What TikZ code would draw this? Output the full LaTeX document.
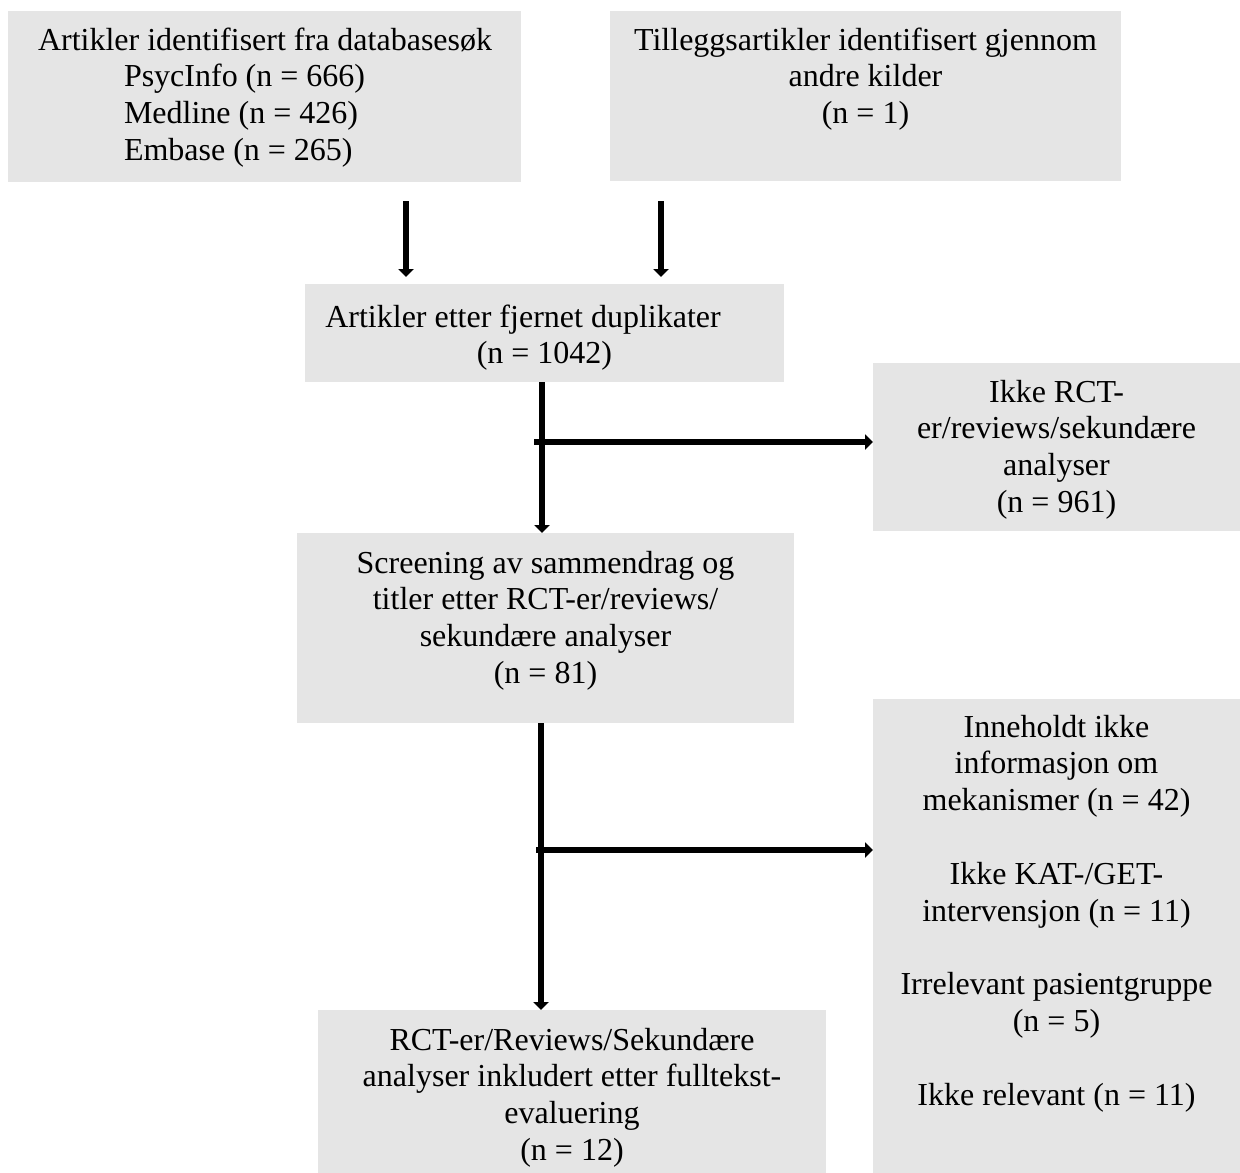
\documentclass[tikz,border=0pt]{standalone}
\usepackage{fontspec}
\setmainfont{Liberation Serif}
\usetikzlibrary{arrows.meta}
\definecolor{boxgray}{RGB}{229,229,229}
\begin{document}
\begin{tikzpicture}[x=1pt,y=-1pt,
  box/.style={fill=boxgray, draw=none, inner sep=0pt, outer sep=0pt, anchor=north west},
  txt/.style={inner sep=0pt, outer sep=0pt, anchor=base, font=\fontsize{32}{36.8}\selectfont},
  arr/.style={line width=6pt, -{Triangle[width=15pt,length=8pt]}}]
\useasboundingbox (0,0) rectangle (1240,1173);
% boxes
\node[box, minimum width=513pt, minimum height=171pt] (b1) at (8,11) {};
\node[box, minimum width=511pt, minimum height=170pt] (b2) at (610,11) {};
\node[box, minimum width=479pt, minimum height=98pt] (b3) at (305,284) {};
\node[box, minimum width=497pt, minimum height=190pt] (b4) at (297,533) {};
\node[box, minimum width=367pt, minimum height=168pt] (b5) at (873,363) {};
\node[box, minimum width=508pt, minimum height=163pt] (b6) at (318,1010) {};
\node[box, minimum width=367pt, minimum height=474pt] (b7) at (873,699) {};
% texts
\node[txt, anchor=base west] (t1) at (38,50) {\begin{tabular}[t]{@{}l@{}}Artikler identifisert fra databasesøk\\
\hspace*{86pt}PsycInfo (n = 666)\\
\hspace*{86pt}Medline (n = 426)\\
\hspace*{86pt}Embase (n = 265)\end{tabular}};
\node[txt] (t2) at (865.5,50) {\begin{tabular}[t]{@{}c@{}}Tilleggsartikler identifisert gjennom\\ andre kilder\\ (n = 1)\end{tabular}};
\node[txt] (t3) at (544.5,327) {\begin{tabular}[t]{@{}c@{}}Artikler etter fjernet duplikater\hspace*{43pt}\\ (n = 1042)\end{tabular}};
\node[txt] (t4) at (545.5,573) {\begin{tabular}[t]{@{}c@{}}Screening av sammendrag og\\ titler etter RCT-er/reviews/\\ sekundære analyser\\ (n = 81)\end{tabular}};
\node[txt] (t5) at (1056.5,402) {\begin{tabular}[t]{@{}c@{}}Ikke RCT-\\ er/reviews/sekundære\\ analyser\\ (n = 961)\end{tabular}};
\node[txt] (t6) at (572,1050) {\begin{tabular}[t]{@{}c@{}}RCT-er/Reviews/Sekundære\\ analyser inkludert etter fulltekst-\\ evaluering\\ (n = 12)\end{tabular}};
\node[txt] (t7) at (1056.5,737) {\begin{tabular}[t]{@{}c@{}}Inneholdt ikke\\ informasjon om\\ mekanismer (n = 42)\\ \\ Ikke KAT-/GET-\\ intervensjon (n = 11)\\ \\ Irrelevant pasientgruppe\\ (n = 5)\\ \\ Ikke relevant (n = 11)\end{tabular}};
% connector helpers
\coordinate (v1) at (406,0);
\coordinate (v2) at (661,0);
\coordinate (v3) at (542,0);
\coordinate (v4) at (541,0);
\coordinate (h1) at (534,442);
\coordinate (h2) at (536,850);
% connectors
\draw[arr, shorten <=19pt, shorten >=7pt] (b1.south -| v1) -- (b3.north -| v1);
\draw[arr, shorten <=20pt, shorten >=7pt] (b2.south -| v2) -- (b3.north -| v2);
\draw[arr] (b3.south -| v3) -- (b4.north -| v3);
\draw[arr] (h1) -- (h1 -| b5.west);
\draw[arr] (b4.south -| v4) -- (b6.north -| v4);
\draw[arr] (h2) -- (h2 -| b7.west);
\end{tikzpicture}
\end{document}
